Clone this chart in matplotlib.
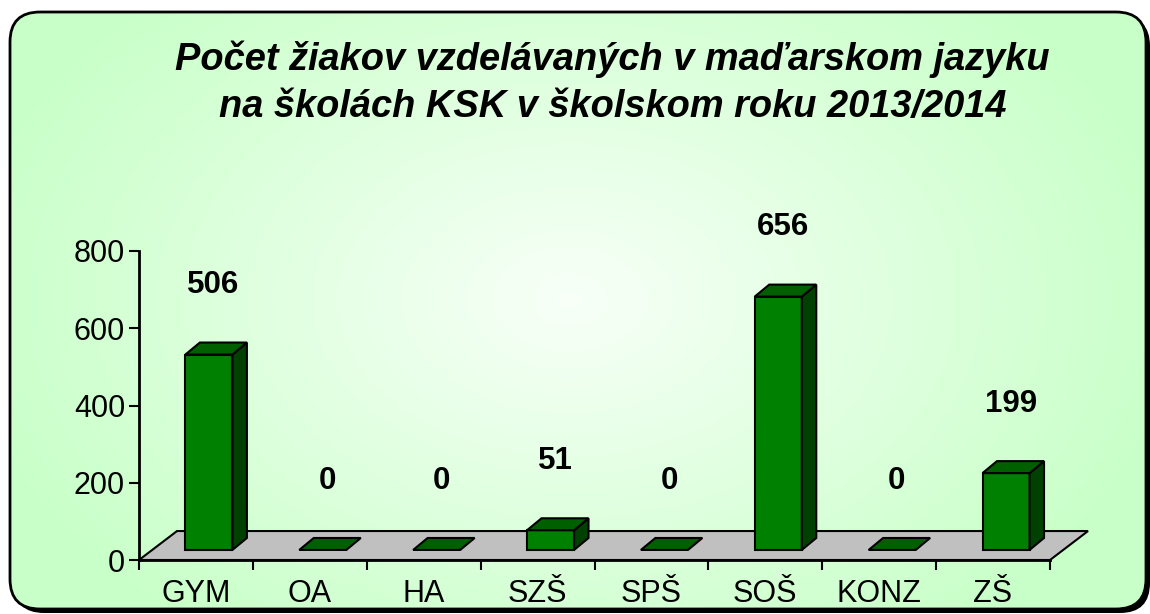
import matplotlib
matplotlib.use('Agg')
import matplotlib.pyplot as plt
import numpy as np
from matplotlib.patches import FancyBboxPatch, Polygon, Rectangle

plt.rcParams['font.family'] = ['Liberation Sans', 'DejaVu Sans']

# data
categories = ['GYM', 'OA', 'HA', 'SZŠ', 'SPŠ', 'SOŠ', 'KONZ', 'ZŠ']
values = [506, 0, 0, 51, 0, 656, 0, 199]
y_ticks = [0, 200, 400, 600, 800]
title_lines = ['Počet žiakov vzdelávaných v maďarskom jazyku',
               'na školách KSK v školskom roku 2013/2014']

W, H = 1150, 614
fig = plt.figure(figsize=(W / 100, H / 100), dpi=100)

# background panel with rounded border, shadow and radial gradient
bg = fig.add_axes([0, 0, 1, 1])
bg.set_xlim(0, W)
bg.set_ylim(H, 0)
bg.axis('off')
shadow = FancyBboxPatch((14 + 30, 16 + 30), 1136 - 60, 597 - 60,
                        boxstyle='round,pad=30', fc='black', ec='black', lw=0)
bg.add_patch(shadow)
box = FancyBboxPatch((10 + 30, 12 + 30), 1136 - 60, 597 - 60,
                     boxstyle='round,pad=30', fc='none', ec='black', lw=2, zorder=3)
bg.add_patch(box)
gx, gy = np.meshgrid(np.linspace(0, W, 300), np.linspace(0, H, 160))
r = np.sqrt(((gx - 570) / 620) ** 2 + ((gy - 300) / 420) ** 2)
r = np.clip(r, 0, 1)
c0 = np.array([248, 255, 248]) / 255
c1 = np.array([200, 255, 200]) / 255
img = c0[None, None, :] * (1 - r[..., None]) + c1[None, None, :] * r[..., None]
im = bg.imshow(img, extent=(0, W, H, 0), aspect='auto', zorder=1)
inner = FancyBboxPatch((10 + 30, 12 + 30), 1136 - 60, 597 - 60,
                       boxstyle='round,pad=30', fc='none', ec='none', transform=bg.transData)
bg.add_patch(inner)
im.set_clip_path(inner)

# title
fig.text(612 / W, 1 - 70 / H, title_lines[0], ha='center', va='baseline',
         fontsize=27.4, fontweight='bold', fontstyle='italic')
fig.text(613 / W, 1 - 117 / H, title_lines[1], ha='center', va='baseline',
         fontsize=27.4, fontweight='bold', fontstyle='italic')

# main axes
ax = fig.add_axes([139 / W, 54 / H, 911 / W, 309 / H])
ax.patch.set_alpha(0)
ax.set_xlim(0, len(categories))
ax.set_ylim(0, 800)

floor_dx, floor_dy = 0.334, 75
base_dx, base_dy = 0.114, 26
bar_w = 0.413
depth_dx, depth_dy = 0.127, 31

n = len(categories)
floor = Polygon([(0, 0), (n, 0), (n + floor_dx, floor_dy), (floor_dx, floor_dy)],
                closed=True, fc='#c0c0c0', ec='black', lw=1.5, clip_on=False, zorder=1)
ax.add_patch(floor)

for i, v in enumerate(values):
    x0 = i + 0.5 - bar_w / 2 + base_dx
    y0 = base_dy
    y1 = y0 + v
    top = Polygon([(x0, y1), (x0 + bar_w, y1), (x0 + bar_w + depth_dx, y1 + depth_dy),
                   (x0 + depth_dx, y1 + depth_dy)], closed=True,
                  fc='#006000', ec='black', lw=1.5, clip_on=False, zorder=3)
    if v > 0:
        front = Rectangle((x0, y0), bar_w, v, fc='#008000', ec='black', lw=1.5,
                          clip_on=False, zorder=3)
        side = Polygon([(x0 + bar_w, y0), (x0 + bar_w + depth_dx, y0 + depth_dy),
                        (x0 + bar_w + depth_dx, y1 + depth_dy), (x0 + bar_w, y1)],
                       closed=True, fc='#004000', ec='black', lw=1.5, clip_on=False, zorder=3)
        ax.add_patch(front)
        ax.add_patch(side)
    ax.add_patch(top)
    ax.annotate(str(v), (x0 + bar_w / 2 + 0.04, y1), xytext=(0, 50), textcoords='offset points',
                ha='center', va='center', fontsize=22.5, fontweight='bold')

for s in ['top', 'right']:
    ax.spines[s].set_visible(False)
ax.spines['left'].set_linewidth(2)
ax.spines['bottom'].set_linewidth(2)
ax.spines['bottom'].set_zorder(2)

ax.set_yticks(y_ticks)
ax.tick_params(axis='y', direction='out', length=7, width=1.5, labelsize=22, pad=3)
ax.set_xticks(np.arange(n + 1))
ax.set_xticklabels([])
ax.set_xticks(np.arange(n) + 0.5, minor=True)
ax.set_xticklabels(categories, minor=True)
ax.tick_params(axis='x', which='major', direction='out', length=7, width=1.5)
ax.tick_params(axis='x', which='minor', length=0, labelsize=22, pad=14)

fig.savefig('out.png', dpi=100)
